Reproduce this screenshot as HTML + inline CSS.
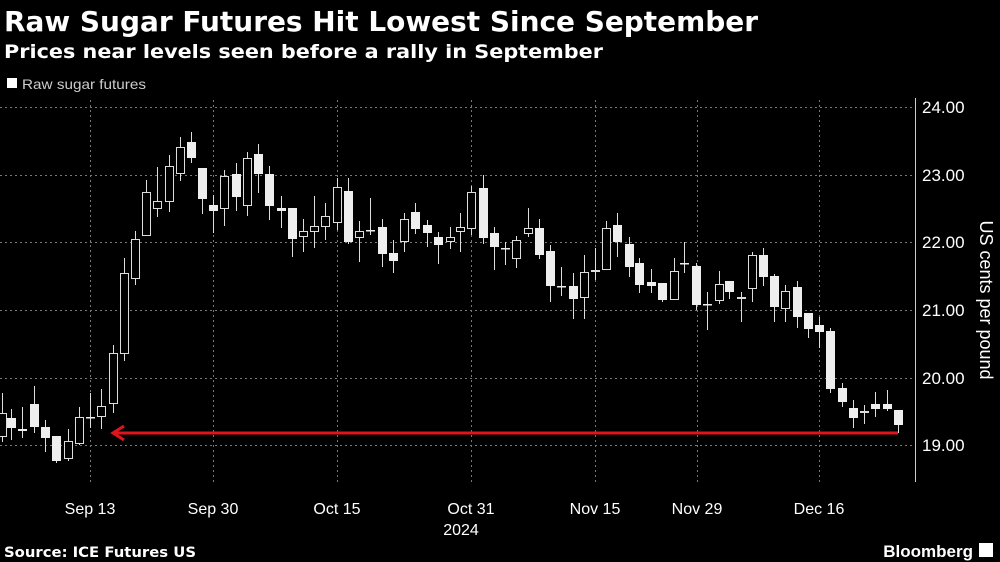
<!DOCTYPE html>
<html><head><meta charset="utf-8"><style>
html,body{margin:0;padding:0;background:#000;width:1000px;height:562px;overflow:hidden}
text{font-family:"Liberation Sans",sans-serif}
</style></head><body>
<svg id="s" width="1000" height="562" xmlns="http://www.w3.org/2000/svg">
<rect width="1000" height="562" fill="#000"/>
<text x="4" y="31" fill="#fff" font-size="28" font-weight="bold" textLength="754" lengthAdjust="spacingAndGlyphs" style="font-family:'DejaVu Sans',sans-serif">Raw Sugar Futures Hit Lowest Since September</text>
<text x="4" y="58" fill="#fff" font-size="19" font-weight="bold" textLength="599" lengthAdjust="spacingAndGlyphs" style="font-family:'DejaVu Sans',sans-serif">Prices near levels seen before a rally in September</text>
<rect x="7" y="78" width="10" height="10" fill="#fff"/>
<text x="22" y="89" fill="#ccc" font-size="14" textLength="124" lengthAdjust="spacingAndGlyphs">Raw sugar futures</text>
<g id="grid" stroke="#777" stroke-width="1" stroke-dasharray="2,3"></g>
<line x1="915.5" y1="98" x2="915.5" y2="482" stroke="#ccc"/>
<g id="c"></g>
<line x1="116" y1="433" x2="898" y2="433" stroke="#e0141c" stroke-width="3"/>
<path d="M124 426 L113 433 L124 440" fill="none" stroke="#e0141c" stroke-width="3"/>
<g fill="#fff" font-size="17">
<text x="922" y="113">24.00</text><text x="922" y="181">23.00</text><text x="922" y="248">22.00</text><text x="922" y="316">21.00</text><text x="922" y="384">20.00</text><text x="922" y="451">19.00</text>
</g>
<text transform="translate(980,300) rotate(90)" fill="#fff" font-size="18" text-anchor="middle">US cents per pound</text>
<g fill="#fff" font-size="16" text-anchor="middle">
<text x="90" y="514">Sep 13</text><text x="213" y="514">Sep 30</text><text x="337" y="514">Oct 15</text><text x="471" y="514">Oct 31</text><text x="595" y="514">Nov 15</text><text x="697" y="514">Nov 29</text><text x="819" y="514">Dec 16</text><text x="461" y="535">2024</text>
</g>
<text x="4" y="557" fill="#fff" font-size="14" font-weight="bold" textLength="192" lengthAdjust="spacingAndGlyphs" style="font-family:'DejaVu Sans',sans-serif">Source: ICE Futures US</text>
<text x="973" y="557" fill="#fff" font-size="17" font-weight="bold" text-anchor="end">Bloomberg</text>
<rect x="979" y="543" width="14" height="14" fill="#fff"/>
</svg>
<script>
var ns="http://www.w3.org/2000/svg",g=document.getElementById('grid'),c=document.getElementById('c');
function el(p,t,a){var e=document.createElementNS(ns,t);for(var k in a)e.setAttribute(k,a[k]);p.appendChild(e);return e;}
[107,175,242,310,378,445].forEach(function(y){el(g,'line',{x1:0,x2:915,y1:y+.5,y2:y+.5});});
[90,213,337,471,595,697,819].forEach(function(x){el(g,'line',{x1:x+.5,x2:x+.5,y1:100,y2:482});});
var d=[[2,413,437,393,442,0],[11,418,428,409,440,1],[22,429,431,407,438,1],[34,404,427,386,433,1],[45,427,438,420,452,1],[56,436,461,436,463,1],[68,441,459,429,461,0],[79,417,444,407,445,0],[90,417,418,393,428,1],[101,406,417,389,429,0],[113,353,404,345,413,0],[124,273,354,258,361,0],[135,239,279,231,285,0],[146,192,236,180,236,0],[157,201,209,167,217,0],[169,166,202,155,212,0],[180,147,174,137,181,0],[191,142,158,132,163,1],[202,168,199,168,214,1],[213,205,211,195,233,1],[224,176,209,170,226,0],[236,174,197,163,211,1],[247,158,206,152,216,0],[258,154,174,144,193,1],[269,174,206,166,220,1],[281,208,211,196,228,1],[292,208,239,208,257,1],[303,231,237,219,252,0],[314,226,232,196,248,0],[325,216,227,203,240,0],[337,187,223,178,230,0],[348,191,242,178,244,1],[359,231,238,221,262,0],[370,230,231,198,235,1],[382,227,254,219,267,1],[393,253,261,240,273,1],[404,219,242,213,252,0],[415,212,229,203,234,1],[427,225,233,220,247,1],[438,237,245,232,264,1],[450,237,242,227,249,0],[460,227,232,213,252,0],[471,192,229,186,235,0],[483,188,238,175,244,1],[494,233,247,227,270,1],[505,248,249,242,265,1],[516,240,259,236,268,0],[528,228,234,208,237,0],[539,228,255,219,259,1],[550,251,286,245,302,1],[561,286,287,267,296,1],[573,286,299,273,319,1],[584,272,298,255,319,0],[595,270,272,248,280,0],[606,228,270,221,270,0],[617,225,242,213,257,1],[629,244,267,237,277,1],[639,263,285,258,293,1],[651,282,286,269,293,1],[662,283,300,283,302,1],[674,271,300,258,300,0],[684,263,264,242,273,1],[696,266,305,263,310,1],[707,304,305,292,330,1],[719,284,301,271,304,0],[729,281,292,281,299,1],[741,297,299,292,322,0],[752,255,289,252,302,0],[763,255,277,248,286,1],[774,276,307,274,322,1],[785,291,309,285,322,0],[797,287,317,281,328,1],[808,313,329,313,338,1],[819,325,332,317,348,1],[830,331,389,328,393,1],[842,388,402,383,407,1],[853,408,418,400,428,1],[864,411,413,405,424,0],[875,404,409,392,417,1],[887,404,409,390,411,1],[898,410,425,410,433,1]];
d.forEach(function(k){var x=k[0];
el(c,'line',{x1:x+.5,x2:x+.5,y1:k[3],y2:k[4],stroke:'#ddd','stroke-width':1});
var h=Math.max(k[2]-k[1],1.5);
if(k[5])el(c,'rect',{x:x-4,y:k[1],width:9,height:h,fill:'#eee'});
else el(c,'rect',{x:x-3.5,y:k[1]+.5,width:8,height:Math.max(h-1,1),fill:'#000',stroke:'#ddd','stroke-width':1});
});
</script>
</body></html>
